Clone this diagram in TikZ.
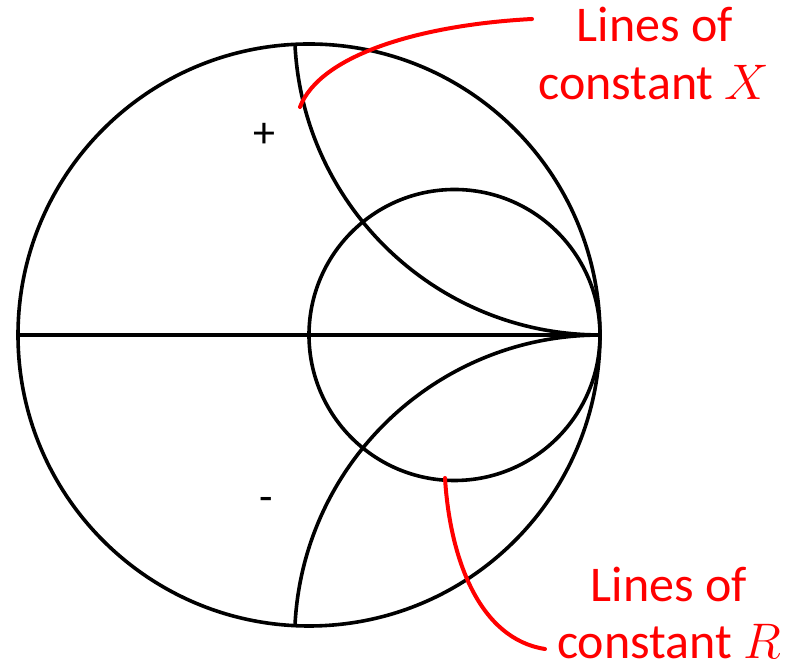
\RequirePackage{fix-cm}
\documentclass[tikz,border=0pt]{standalone}
\usepackage{fontspec}
\setmainfont{Carlito}
\begin{document}
\begin{tikzpicture}[x=1pt,y=1pt]
\tikzset{
  chart/.style={draw=black, line width=3.6pt},
  callout/.style={draw=red, line width=4pt, line cap=round},
  lbl/.style={text=red, anchor=base, inner sep=0pt, font=\fontsize{50}{58}\selectfont},
  sign/.style={text=black, anchor=base, inner sep=0pt, font=\fontsize{44}{52}\selectfont}
}
\useasboundingbox (0,0) rectangle (796,671);
\coordinate (O) at (309,336);
\coordinate (C) at (454.5,336);
\coordinate (W) at (18,336);
\coordinate (E) at (600,336);
\coordinate (Xtop) at (295,626);
\coordinate (Xbot) at (295,46);
% outer circle, unit-resistance circle, real axis
\draw[chart] (O) circle[radius=291];
\draw[chart] (C) circle[radius=145.5];
\draw[chart] (W) -- (E);
% constant-X arcs
\draw[chart] (Xtop) arc[start angle=182.9, end angle=270, radius=305.4];
\draw[chart] (Xbot) arc[start angle=177.1, end angle=90, radius=305.4];
% signs
\node[sign] (plus) at (264.5,523) {+};
\node[sign] (minus) at (266.5,159) {-};
% labels
\node[lbl] (xa) at (655,629) {Lines of};
\node[lbl] (xb) at (654,571) {constant $X$};
\node[lbl] (ra) at (669,69) {Lines of};
\node[lbl] (rb) at (669,12) {constant $R$};
% callouts
\coordinate (xs) at (300,564);
\coordinate (xe) at (532,652);
\draw[callout] (xs) .. controls (320,616) and (420,646) .. (xe);
\coordinate (rs) at (445,193);
\coordinate (re) at (545,22);
\draw[callout] (rs) .. controls (450,111) and (480,32) .. (re);
\end{tikzpicture}
\end{document}
